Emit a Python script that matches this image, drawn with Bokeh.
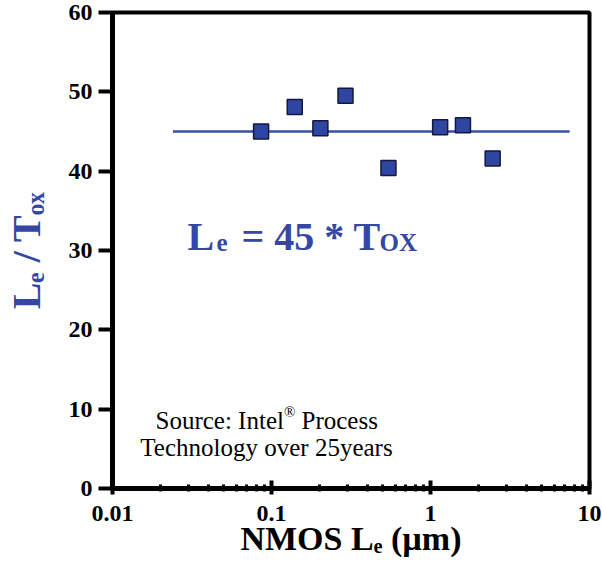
import math
from bokeh.plotting import figure
from bokeh.models import Label, FixedTicker
from bokeh.embed import file_html
from bokeh.resources import INLINE

# ---- data ----
le_um = [0.086, 0.140, 0.203, 0.292, 0.544, 1.15, 1.60, 2.46]
le_over_tox = [45.0, 48.1, 45.4, 49.5, 40.4, 45.55, 45.8, 41.6]
fit_x = [0.024, 7.5]
fit_y = [45, 45]
x_ticks = [0.01, 0.1, 1, 10]
x_tick_labels = ["0.01", "0.1", "1", "10"]
x_minor_ticks = [k * 10.0 ** d for d in (-2, -1, 0) for k in range(2, 10)]
y_ticks = [0, 10, 20, 30, 40, 50, 60]
x_title = "NMOS L\u2091 (\u00b5m)"
y_title = "L\u2091 / T\u2092\u2093"

BLUE = "#3448a3"
FONT = "Liberation Serif"

p = figure(width=602, height=561, x_axis_type="log", x_range=(0.01, 10), y_range=(0, 60),
           output_backend="svg", toolbar_location=None, title=None,
           min_border_left=112, min_border_right=13, min_border_top=12, min_border_bottom=73)
p.background_fill_color = "white"
p.border_fill_color = "white"
p.xgrid.visible = False
p.ygrid.visible = False
p.outline_line_color = "black"
p.outline_line_width = 4
p.outline_line_alpha = 1

# axes
for ax in (p.xaxis[0], p.yaxis[0]):
    ax.axis_line_width = 5
    ax.axis_line_color = "black"
    ax.major_tick_line_width = 4
    ax.major_tick_line_color = "black"
    ax.major_label_text_font = FONT
    ax.major_label_text_font_style = "bold"
    ax.major_label_text_font_size = "24px"
    ax.major_label_text_color = "black"
    ax.axis_label_text_font = FONT
    ax.axis_label_text_font_style = "bold"

p.xaxis.ticker = FixedTicker(ticks=x_ticks, minor_ticks=x_minor_ticks)
p.xaxis.major_label_overrides = {t: s for t, s in zip(x_ticks, x_tick_labels)}
p.xaxis.major_tick_in = 8
p.xaxis.major_tick_out = 6
p.xaxis.minor_tick_in = 4
p.xaxis.minor_tick_out = 3
p.xaxis.minor_tick_line_width = 3
p.xaxis.minor_tick_line_color = "black"
p.xaxis.major_label_standoff = 11
p.xaxis.axis_label = x_title
p.xaxis.axis_label_text_font_size = "34px"
p.xaxis.axis_label_text_color = "black"
p.xaxis.axis_label_standoff = -4

p.yaxis.ticker = FixedTicker(ticks=y_ticks)
p.yaxis.major_tick_in = 0
p.yaxis.major_tick_out = 14
p.yaxis.minor_tick_line_color = None
p.yaxis.major_label_standoff = 6
p.yaxis.axis_label = y_title
p.yaxis.axis_label_text_font_size = "40px"
p.yaxis.axis_label_text_color = BLUE
p.yaxis.axis_label_standoff = 17

# fit line and points
p.line(fit_x, fit_y, line_color="#3a4fa8", line_width=2.5)
p.scatter(le_um, le_over_tox, marker="square", size=15, fill_color="#2e46a2",
          line_color="#15183a", line_width=1.5)

def lab(text, x, y, size, color="black", style="bold", align="left"):
    p.add_layout(Label(x=x, y=y, x_units="screen", y_units="screen", text=text,
                       text_font=FONT, text_font_style=style, text_font_size=f"{size}px",
                       text_color=color, text_align=align, text_baseline="alphabetic"))

# equation inside plot
lab("L", 75, 252, 40, BLUE)
lab("e", 104, 246, 25, BLUE)
lab("= 45 * T", 129, 252, 40, BLUE)
lab("OX", 267, 246, 25, BLUE)

# source note
lab("Source: Intel", 43, 68, 25, style="normal")
lab("\u00ae", 171.5, 77, 15, style="normal")
lab("Process", 189, 68, 25, style="normal")
lab("Technology over 25years", 154, 41, 25, style="normal", align="center")

open("out.html", "w").write(file_html(p, INLINE))
